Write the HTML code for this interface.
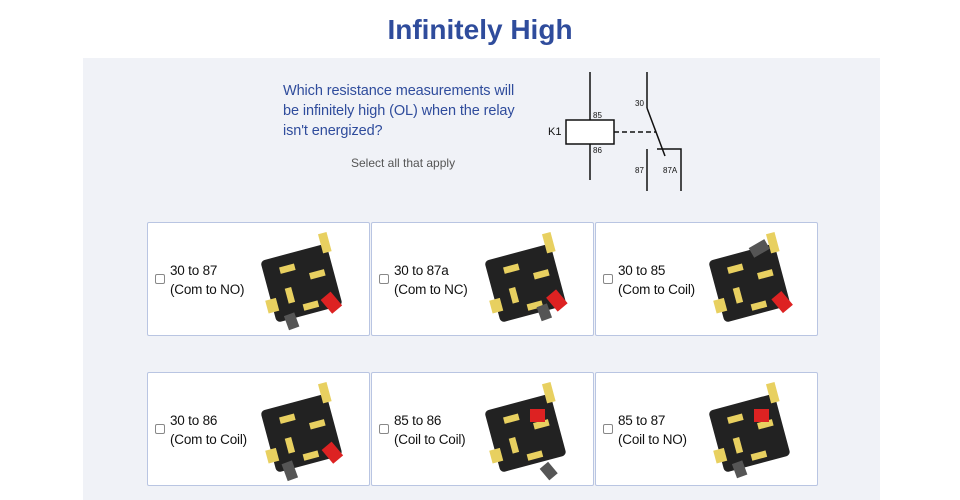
<!DOCTYPE html>
<html><head><meta charset="utf-8"><style>
body{margin:0;width:960px;height:500px;background:#fff;font-family:"Liberation Sans",sans-serif;position:relative;overflow:hidden}
h1{position:absolute;top:14px;left:0;width:960px;text-align:center;margin:0;font-size:28px;color:#2f4c9c;font-weight:bold}
.panel{position:absolute;left:83px;top:58px;width:797px;height:442px;background:#f0f2f7}
.q{position:absolute;left:283px;top:81px;font-size:14.5px;line-height:20px;color:#2f4c9c;letter-spacing:-0.1px}
.sel{position:absolute;left:351px;top:156px;font-size:12px;color:#555}
.card{position:absolute;width:221px;height:112px;background:#fff;border:1px solid #b9c5e2;border-radius:2px}
.cb{position:absolute;left:7px;top:51px;width:8px;height:8px;border:1px solid #888;border-radius:2px}
.lbl{position:absolute;left:22px;top:38px;font-size:13.5px;line-height:19px;color:#111;letter-spacing:-0.2px}
.card svg{position:absolute;left:103px;top:5px}
</style></head><body>
<h1>Infinitely High</h1>
<div class="panel"></div>
<div class="q">Which resistance measurements will<br>be infinitely high (OL) when the relay<br>isn't energized?</div>
<div class="sel">Select all that apply</div>
<svg style="position:absolute;left:530px;top:60px" width="180" height="140" font-family="Liberation Sans" font-size="8" fill="#111">
<g stroke="#111" stroke-width="1.5" fill="none">
<line x1="60" y1="12" x2="60" y2="120"/><rect x="36" y="60" width="48" height="24" fill="#fff"/>
<line x1="117" y1="12" x2="117" y2="48"/><line x1="117" y1="48" x2="135" y2="96"/>
<line x1="117" y1="89" x2="117" y2="131"/><polyline points="127,89 151,89 151,131"/>
<line x1="84" y1="72" x2="126" y2="72" stroke-dasharray="5,3"/></g>
<text x="63" y="58">85</text><text x="63" y="93">86</text><text x="18" y="75" font-size="11">K1</text>
<text x="105" y="46">30</text><text x="105" y="113">87</text><text x="133" y="113">87A</text>
</svg>
<svg width="0" height="0" style="position:absolute"><defs>
<g id="r"><g transform="scale(1.1) rotate(-15 50 50)"><rect x="15" y="20" width="62" height="58" rx="4" fill="#222"/>
<rect x="30" y="30" width="14" height="6" fill="#e8d060"/><rect x="30" y="50" width="6" height="14" fill="#e8d060"/>
<rect x="55" y="42" width="14" height="6" fill="#e8d060"/><rect x="42" y="68" width="14" height="6" fill="#e8d060"/>
<rect x="10" y="56" width="10" height="12" fill="#e8d060"/><rect x="72" y="10" width="8" height="18" fill="#e8d060"/></g></g></defs></svg>
<div class="card" style="left:147px;top:222px"><div class="cb"></div><div class="lbl">30 to 87<br>(Com to NO)</div><svg width="110" height="110"><use href="#r"/><rect x="74" y="66" width="13" height="18" fill="#d22" transform="rotate(-40 80 75)"/><rect x="35" y="86" width="11" height="15" fill="#555" transform="rotate(-20 40 93)"/></svg></div>
<div class="card" style="left:371px;top:222px"><div class="cb"></div><div class="lbl">30 to 87a<br>(Com to NC)</div><svg width="110" height="110"><use href="#r"/><rect x="77" y="64" width="13" height="18" fill="#d22" transform="rotate(-40 82 75)"/><rect x="64" y="77" width="11" height="15" fill="#555" transform="rotate(-20 69 85)"/></svg></div>
<div class="card" style="left:595px;top:222px"><div class="cb"></div><div class="lbl">30 to 85<br>(Com to Coil)</div><svg width="110" height="110"><use href="#r"/><rect x="77" y="66" width="13" height="18" fill="#d22" transform="rotate(-40 82 75)"/><rect x="55" y="11" width="11" height="18" fill="#555" transform="rotate(60 60 20)"/></svg></div>
<div class="card" style="left:147px;top:372px"><div class="cb"></div><div class="lbl">30 to 86<br>(Com to Coil)</div><svg width="110" height="110"><use href="#r"/><rect x="75" y="66" width="13" height="18" fill="#d22" transform="rotate(-40 81 75)"/><rect x="33" y="84" width="11" height="18" fill="#555" transform="rotate(-20 38 92)"/></svg></div>
<div class="card" style="left:371px;top:372px"><div class="cb"></div><div class="lbl">85 to 86<br>(Coil to Coil)</div><svg width="110" height="110"><use href="#r"/><rect x="55" y="31" width="15" height="13" fill="#d22"/><rect x="68" y="86" width="11" height="15" fill="#555" transform="rotate(-40 73 93)"/></svg></div>
<div class="card" style="left:595px;top:372px"><div class="cb"></div><div class="lbl">85 to 87<br>(Coil to NO)</div><svg width="110" height="110"><use href="#r"/><rect x="55" y="31" width="15" height="13" fill="#d22"/><rect x="35" y="84" width="11" height="15" fill="#555" transform="rotate(-20 40 91)"/></svg></div>
</body></html>
